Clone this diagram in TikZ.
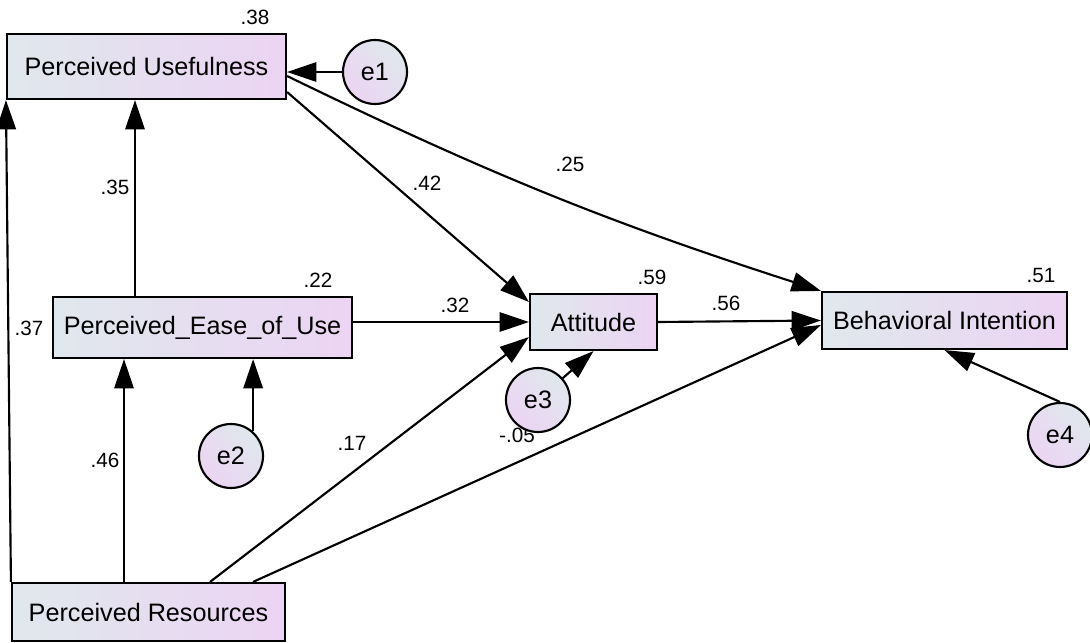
\documentclass[tikz,border=0pt]{standalone}
\usepackage{fontspec}
\setmainfont{Liberation Sans}
\usetikzlibrary{arrows.meta,calc}
\definecolor{boxl}{RGB}{224,232,237}
\definecolor{boxr}{RGB}{236,212,243}
\tikzstyle{varbox}=[rectangle,draw=black,line width=1.6pt,
                    left color=boxl,right color=boxr,inner sep=0pt,
                    font=\fontsize{18.9}{22}\selectfont]
\tikzstyle{errdot}=[circle,draw=black,line width=1.6pt,
                    left color=boxl,right color=boxr,shading angle=-45,
                    inner sep=0pt,minimum size=48pt,
                    font=\fontsize{18.9}{22}\selectfont]
\tikzstyle{coef}=[inner sep=0pt,font=\fontsize{15.5}{17}\selectfont]
\tikzstyle{arr}=[line width=1.6pt,-{Triangle[length=22pt,width=14.5pt]}]

\begin{document}
\begin{tikzpicture}[x=0.75pt,y=-0.75pt]
    \useasboundingbox (0,0) rectangle (1090,643);
    \node (pu)  at (146.5,66.5) [varbox,minimum width=209.25pt,minimum height=48.75pt]{Perceived Usefulness};
    \node (peu) at (202.5,327.5) [varbox,minimum width=224.25pt,minimum height=45.75pt]{Perceived\_Ease\_of\_Use};
    \node (att) at (593.5,322) [varbox,minimum width=95.25pt,minimum height=42pt]{Attitude};
    \node (bi)  at (944.5,320.5) [varbox,minimum width=183.75pt,minimum height=42.75pt]{Behavioral Intention};
    \node (pr)  at (148.5,612) [varbox,minimum width=204.75pt,minimum height=43.5pt]{Perceived Resources};
    \node (l05) at (517,435) [coef]{-.05};
    \node (e1) at (375,72)  [errdot]{e1};
    \node (e2) at (231,456) [errdot]{e2};
    \node (e3) at (538,400) [errdot]{e3};
    \node (e4) at (1060,435) [errdot]{e4};
    \draw[arr] (e1.west) -- (e1.west -| pu.east);
    \draw[arr] (peu.north -| 135,0) -- (pu.south -| 135,0);
    \draw[arr] (pr.north west) -- (pu.south west);
    \draw[arr] (pr.north -| 124,0) -- (peu.south -| 124,0);
    \draw[arr] (e2.48) -- (peu.south -| e2.48);
    \draw[arr] (pu.east |- 0,92) -- (att.west |- 0,302);
    \draw[arr] (pu.east |- 0,76) to[bend right=4] (bi.north west);
    \draw[arr] (peu.east |- att.west) -- (att.west);
    \draw[arr] (pr.north -| 210,0) -- (att.west |- 0,337);
    \draw[arr] (pr.north -| 253,0) -- (bi.west |- 0,325);
    \draw[arr] (e3) -- (att.south);
    \draw[arr] (att.east) -- (bi.west);
    \draw[arr] (e4.north) -- (bi.south);
    \node (l38) at (255,17)  [coef]{.38};
    \node (l35) at (115,187) [coef]{.35};
    \node (l37) at (29,328)  [coef]{.37};
    \node (l22) at (318,280) [coef]{.22};
    \node (l42) at (427,183) [coef]{.42};
    \node (l25) at (570,164) [coef]{.25};
    \node (l32) at (455,305) [coef]{.32};
    \node (l59) at (652,277) [coef]{.59};
    \node (l56) at (726,303) [coef]{.56};
    \node (l51) at (1041,275) [coef]{.51};
    \node (l46) at (105,460) [coef]{.46};
    \node (l17) at (352,443) [coef]{.17};
\end{tikzpicture}
\end{document}
